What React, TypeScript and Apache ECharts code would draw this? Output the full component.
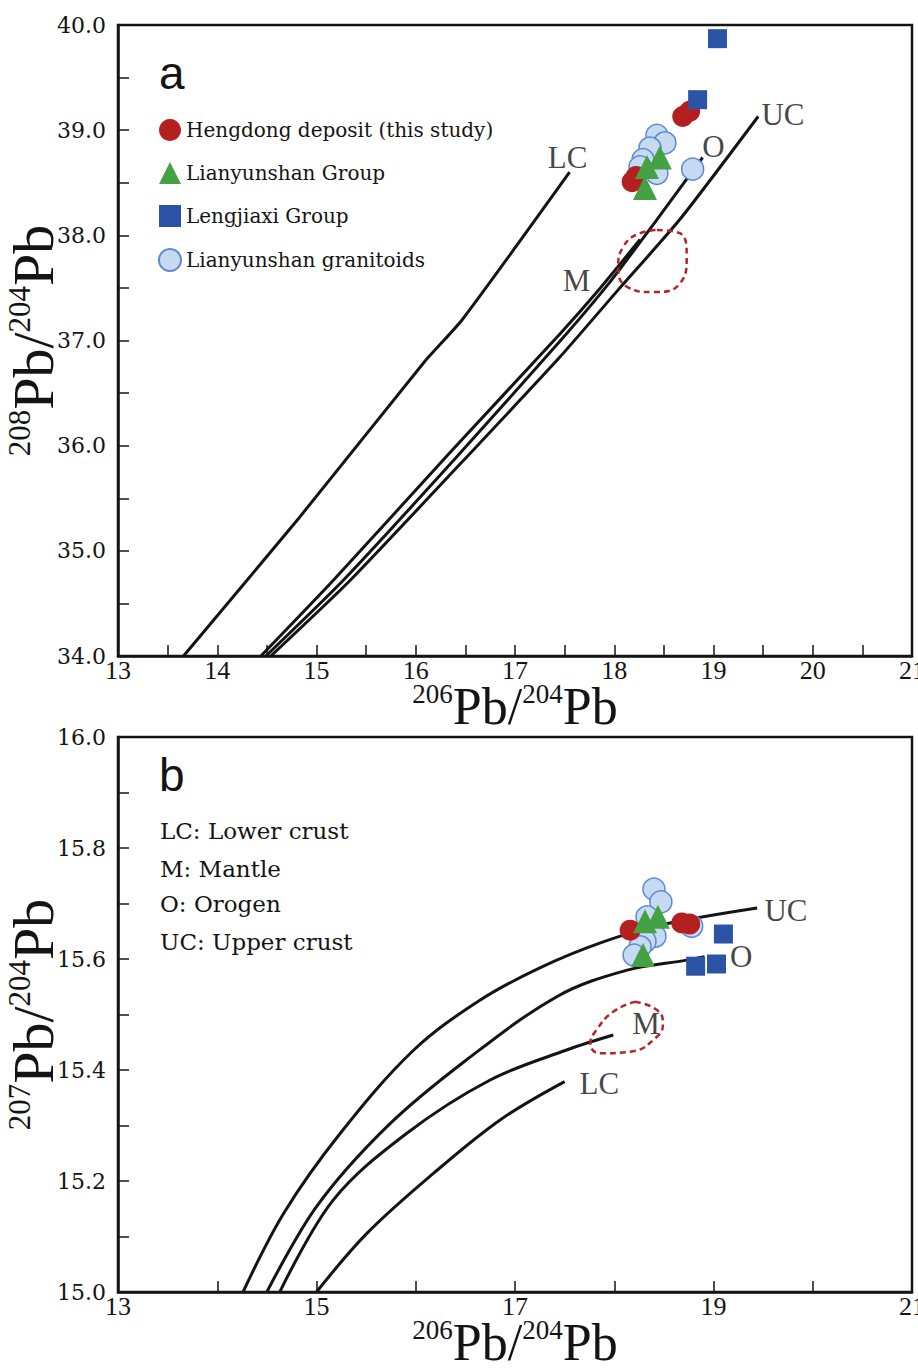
import React, { useEffect, useRef } from 'react';
import * as echarts from 'echarts';

// ---------- Panel a: 208Pb/204Pb vs 206Pb/204Pb ----------
const curveLC_a = [[13.66, 34.0], [14.83, 35.32], [16.09, 36.8], [16.47, 37.2], [17.55, 38.6]];
const curveM_a = [[14.44, 34.0], [15.17, 34.72], [16.35, 35.94], [17.45, 37.06], [17.86, 37.5], [18.26, 37.96]];
const curveO_a = [[14.49, 34.0], [15.27, 34.72], [16.4, 35.88], [17.45, 36.99], [17.96, 37.56], [18.43, 38.15], [18.89, 38.74]];
const curveUC_a = [[14.54, 34.0], [15.34, 34.72], [16.67, 36.05], [17.45, 36.84], [18.02, 37.46], [18.66, 38.15], [19.45, 39.13]];
const mantleField_a = [
  [18.43, 38.05], [18.66, 38.02], [18.73, 37.8], [18.66, 37.54], [18.39, 37.46],
  [18.13, 37.51], [18.04, 37.7], [18.09, 37.89], [18.26, 38.02], [18.43, 38.05],
];
const hengdong_a = [[18.18, 38.51], [18.22, 38.56], [18.69, 39.13], [18.76, 39.18]];
const lianyunshanGroup_a = [[18.46, 38.74], [18.33, 38.65], [18.31, 38.45]];
const lengjiaxi_a = [[19.04, 39.87], [18.84, 39.29]];
const granitoids_a = [
  [18.43, 38.95], [18.51, 38.88], [18.36, 38.83], [18.29, 38.72],
  [18.26, 38.65], [18.43, 38.59], [18.79, 38.63],
];
const curveLabels_a = [
  { name: 'LC', value: [17.53, 38.74] },
  { name: 'O', value: [19.0, 38.84] },
  { name: 'UC', value: [19.7, 39.15] },
  { name: 'M', value: [17.62, 37.57] },
];

// ---------- Panel b: 207Pb/204Pb vs 206Pb/204Pb ----------
const curveUC_b = [[14.26, 15.0], [14.67, 15.142], [15.24, 15.286], [15.98, 15.436], [16.65, 15.526], [17.25, 15.584], [17.86, 15.629], [18.46, 15.661], [19.44, 15.692]];
const curveO_b = [[14.5, 15.0], [15.0, 15.154], [15.71, 15.298], [16.51, 15.418], [17.43, 15.533], [18.13, 15.58], [18.73, 15.598], [18.91, 15.604]];
const curveM_b = [[14.63, 15.0], [15.17, 15.166], [15.91, 15.286], [16.75, 15.382], [17.52, 15.436], [17.99, 15.463]];
const curveLC_b = [[15.0, 15.0], [15.51, 15.106], [16.18, 15.214], [16.85, 15.31], [17.5, 15.379]];
const mantleField_b = [
  [18.21, 15.523], [18.43, 15.508], [18.49, 15.484], [18.43, 15.46], [18.16, 15.433],
  [17.86, 15.43], [17.76, 15.448], [17.82, 15.472], [17.99, 15.505], [18.21, 15.523],
];
const hengdong_b = [[18.16, 15.652], [18.68, 15.665], [18.76, 15.663]];
const lianyunshanGroup_b = [[18.31, 15.668], [18.44, 15.676], [18.29, 15.607]];
const lengjiaxi_b = [[19.1, 15.645], [18.82, 15.587], [19.03, 15.591]];
const granitoids_b = [
  [18.4, 15.726], [18.47, 15.703], [18.33, 15.676], [18.41, 15.641],
  [18.31, 15.632], [18.26, 15.622], [18.2, 15.607], [18.78, 15.659],
];
const curveLabels_b = [
  { name: 'UC', value: [19.73, 15.688] },
  { name: 'O', value: [19.28, 15.604] },
  { name: 'M', value: [18.32, 15.483] },
  { name: 'LC', value: [17.85, 15.375] },
];
const keyLines_b = ['LC: Lower crust', 'M: Mantle', 'O: Orogen', 'UC: Upper crust'];

const legendNames = ['Hengdong deposit (this study)', 'Lianyunshan Group', 'Lengjiaxi Group', 'Lianyunshan granitoids'];

const RED = '#b3201f';
const GREEN = '#45a244';
const BLUE = '#2c54a6';
const LBLUE = '#c6daf2';
const LBLUE_BORDER = '#5b89d4';
const INK = '#141414';
const SERIF = '"Liberation Serif", "Times New Roman", serif';
const WIDE_SERIF = '"DejaVu Serif", serif';

function axisName(sup1: string, sup2: string) {
  return `{s|${sup1}}{m|Pb/}{s|${sup2}}{m|Pb}`;
}
const xNameRich = {
  s: { fontFamily: SERIF, fontSize: 27, color: INK, verticalAlign: 'top', lineHeight: 28 },
  m: { fontFamily: SERIF, fontSize: 52, color: INK, verticalAlign: 'bottom', lineHeight: 52 },
};
const yNameRich = {
  s: { fontFamily: SERIF, fontSize: 31, color: INK, verticalAlign: 'top', lineHeight: 31 },
  m: { fontFamily: SERIF, fontSize: 58, color: INK, verticalAlign: 'bottom', lineHeight: 58 },
};

export default function App() {
  const ref = useRef<HTMLDivElement>(null);
  useEffect(() => {
    if (!ref.current) return;
    const chart = echarts.init(ref.current, undefined, { renderer: 'svg' });

    const lineS = (data: number[][], idx: number, smooth: number) => ({
      type: 'line', data, xAxisIndex: idx, yAxisIndex: idx, showSymbol: false, symbol: 'none', smooth,
      lineStyle: { color: INK, width: 3 }, z: 2, silent: true,
    });
    const fieldS = (data: number[][], idx: number) => ({
      type: 'line', data, xAxisIndex: idx, yAxisIndex: idx, showSymbol: false, symbol: 'none', smooth: 0.5,
      lineStyle: { color: '#b2262a', width: 2.5, type: [6, 4] }, z: 3, silent: true,
    });
    const pts = (idx: number, g: number[][], h: number[][], l: number[][], q: number[][]) => [
      { name: legendNames[3], type: 'scatter', data: g, xAxisIndex: idx, yAxisIndex: idx, symbol: 'circle', symbolSize: 22,
        itemStyle: { color: LBLUE, borderColor: LBLUE_BORDER, borderWidth: 1.5, opacity: 1 }, z: 4 },
      { name: legendNames[0], type: 'scatter', data: h, xAxisIndex: idx, yAxisIndex: idx, symbol: 'circle', symbolSize: 21,
        itemStyle: { color: RED, opacity: 1 }, z: 5 },
      { name: legendNames[1], type: 'scatter', data: l, xAxisIndex: idx, yAxisIndex: idx, symbol: 'triangle', symbolSize: 24,
        itemStyle: { color: GREEN, opacity: 1 }, z: 6 },
      { name: legendNames[2], type: 'scatter', data: q, xAxisIndex: idx, yAxisIndex: idx, symbol: 'rect', symbolSize: 19,
        itemStyle: { color: BLUE, opacity: 1 }, z: 7 },
    ];
    const labelS = (data: any[], idx: number) => ({
      type: 'scatter', data, xAxisIndex: idx, yAxisIndex: idx, symbolSize: 1, silent: true,
      itemStyle: { color: 'rgba(0,0,0,0)' }, z: 8,
      label: { show: true, position: 'inside', formatter: '{b}', fontFamily: SERIF, fontSize: 31, color: INK },
    });

    const tickStyle = { color: INK, width: 1.5 };
    const xAxisBase = {
      type: 'value', min: 13, max: 21,
      axisLine: { show: true, onZero: false, lineStyle: { color: INK, width: 2.5 } },
      axisTick: { show: true, inside: true, length: 11, lineStyle: tickStyle },
      splitLine: { show: false },
      nameLocation: 'middle', nameGap: 24, nameMoveOverlap: false,
      nameTextStyle: { rich: xNameRich },
    };
    const yLabel = { fontFamily: WIDE_SERIF, fontSize: 22, color: INK, margin: 12 };
    const yAxisBase = {
      type: 'value',
      axisLine: { show: true, onZero: false, lineStyle: { color: INK, width: 2.5 } },
      axisTick: { show: true, inside: true, length: 11, lineStyle: tickStyle },
      splitLine: { show: false },
      nameLocation: 'middle', nameGap: 56, nameMoveOverlap: false,
      nameTextStyle: { rich: yNameRich },
    };
    const xLabel = { fontFamily: SERIF, fontSize: 26, lineHeight: 20, color: INK, margin: 4 };

    chart.setOption({
      animation: false,
      backgroundColor: '#ffffff',
      grid: [
        { left: 118, top: 25, width: 794, height: 631, containLabel: false, outerBoundsMode: 'none',
          show: true, borderColor: INK, borderWidth: 2.5, backgroundColor: 'transparent' },
        { left: 118, top: 737, width: 794, height: 555, containLabel: false, outerBoundsMode: 'none',
          show: true, borderColor: INK, borderWidth: 2.5, backgroundColor: 'transparent' },
      ],
      xAxis: [
        { ...xAxisBase, gridIndex: 0, interval: 1, name: axisName('206', '204'),
          minorTick: { show: true, splitNumber: 2, length: 11, lineStyle: tickStyle },
          axisLabel: { ...xLabel } },
        { ...xAxisBase, gridIndex: 1, interval: 1, name: axisName('206', '204'),
          axisLabel: { ...xLabel, formatter: (v: number) => (Math.round(v) % 2 === 1 ? String(v) : '') } },
      ],
      yAxis: [
        { ...yAxisBase, gridIndex: 0, min: 34, max: 40, interval: 1, name: axisName('208', '204'),
          minorTick: { show: true, splitNumber: 2, length: 11, lineStyle: tickStyle },
          axisLabel: { ...yLabel, formatter: (v: number) => v.toFixed(1) } },
        { ...yAxisBase, gridIndex: 1, min: 15, max: 16, interval: 0.1, name: axisName('207', '204'),
          axisLabel: { ...yLabel, formatter: (v: number) => (Math.round(v * 10) % 2 === 0 ? v.toFixed(1) : '') } },
      ],
      legend: {
        show: true, orient: 'vertical', left: 153, top: 114, itemWidth: 22, itemHeight: 22, itemGap: 21,
        selectedMode: false,
        data: [
          { name: legendNames[0], icon: 'circle' },
          { name: legendNames[1], icon: 'triangle' },
          { name: legendNames[2], icon: 'rect' },
          { name: legendNames[3], icon: 'circle' },
        ],
        textStyle: { fontFamily: WIDE_SERIF, fontSize: 20, color: INK },
      },
      graphic: [
        { type: 'text', left: 159, top: 50, style: { text: 'a', fontFamily: '"Liberation Sans", Arial, sans-serif', fontSize: 46, fill: INK } },
        { type: 'text', left: 159, top: 752, style: { text: 'b', fontFamily: '"Liberation Sans", Arial, sans-serif', fontSize: 46, fill: INK } },
        ...keyLines_b.map((t, i) => ({
          type: 'text', left: 160, top: [819, 857, 892, 930][i],
          style: { text: t, fontFamily: WIDE_SERIF, fontSize: 23, fill: INK },
        })),
      ],
      series: [
        lineS(curveLC_a, 0, 0.2), lineS(curveM_a, 0, 0.2), lineS(curveO_a, 0, 0.2), lineS(curveUC_a, 0, 0.2),
        fieldS(mantleField_a, 0),
        ...pts(0, granitoids_a, hengdong_a, lianyunshanGroup_a, lengjiaxi_a),
        labelS(curveLabels_a, 0),
        lineS(curveUC_b, 1, 0.35), lineS(curveO_b, 1, 0.35), lineS(curveM_b, 1, 0.35), lineS(curveLC_b, 1, 0.35),
        fieldS(mantleField_b, 1),
        ...pts(1, granitoids_b, hengdong_b, lianyunshanGroup_b, lengjiaxi_b),
        labelS(curveLabels_b, 1),
      ],
    } as any);
    return () => chart.dispose();
  }, []);
  return <div ref={ref} style={{ position: 'absolute', left: 0, top: 0, width: 918, height: 1371 }} />;
}
